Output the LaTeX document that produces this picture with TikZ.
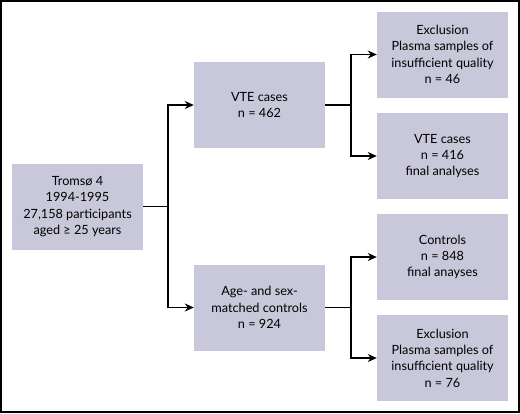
\documentclass[tikz,border=0pt]{standalone}
\usepackage{fontspec}
\setmainfont{Lato}
\usetikzlibrary{arrows.meta}
\definecolor{boxfill}{RGB}{200,200,218}
\tikzset{
  fbox/.style={fill=boxfill, draw=none, minimum width=131pt, minimum height=86pt, align=center, inner sep=2pt, font=\fontsize{12.7}{16.3}\selectfont},
  conn/.style={draw=black, line width=1.4pt},
  arr/.style={conn, -{Stealth[length=9pt,width=8pt]}}
}
\begin{document}
\begin{tikzpicture}[x=1pt,y=-1pt]
\useasboundingbox (0,0) rectangle (520,413);
\draw[line width=2pt] (1,1) rectangle (519,412);
\node[fbox] (t) at (77.5,206.5) {Tromsø 4\\1994-1995\\27,158 participants\\aged ≥ 25 years};
\node[fbox] (v) at (259.5,105) {VTE cases\\n = 462};
\node[fbox] (a) at (259.5,307.5) {Age- and sex-\\matched controls\\n = 924};
\node[fbox] (e1) at (442.5,54.5) {Exclusion\\Plasma samples of\\insufficient quality\\n = 46};
\node[fbox] (v2) at (442.5,156) {VTE cases\\n = 416\\final analyses};
\node[fbox] (c) at (442.5,257) {Controls\\n = 848\\final anayses};
\node[fbox] (e2) at (442.5,358) {Exclusion\\Plasma samples of\\insufficient quality\\n = 76};
\coordinate (j1) at (168,206.5);
\coordinate (j2) at (351,105);
\coordinate (j3) at (351,307.5);
\draw[conn] (t.east) -- (j1);
\draw[arr] (j1) |- (v.west);
\draw[arr] (j1) |- (a.west);
\draw[conn] (v.east) -- (j2);
\draw[arr] (j2) |- (e1.west);
\draw[arr] (j2) |- (v2.west);
\draw[conn] (a.east) -- (j3);
\draw[arr] (j3) |- (c.west);
\draw[arr] (j3) |- (e2.west);
\end{tikzpicture}
\end{document}
